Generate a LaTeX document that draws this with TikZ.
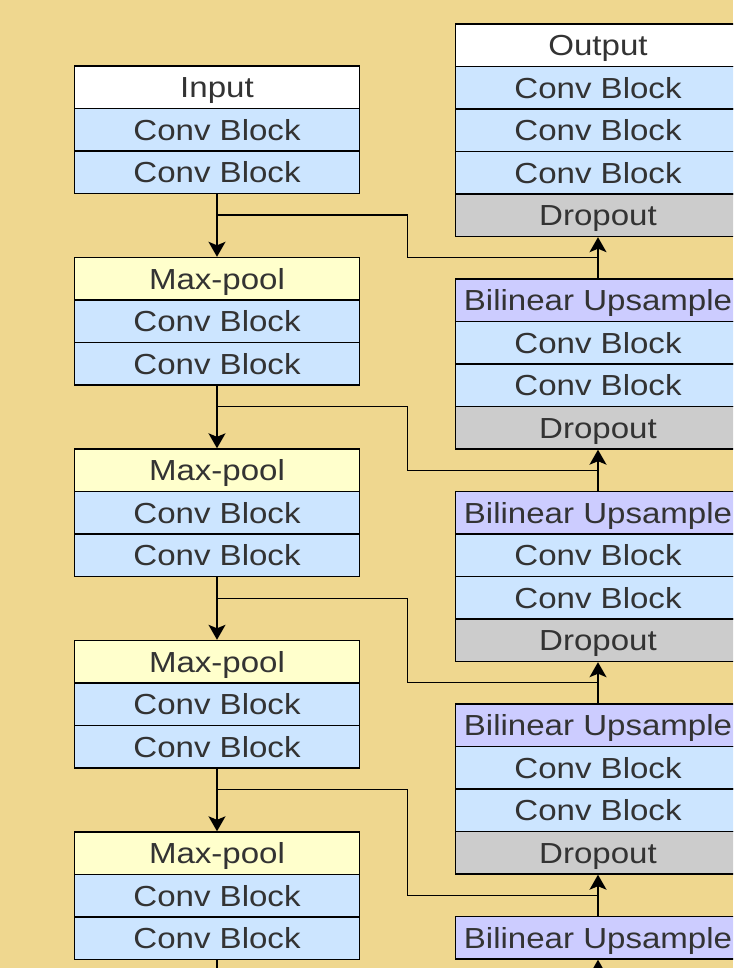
\documentclass[tikz,border=0pt]{standalone}
\usepackage{fontspec}
\setmainfont[FakeStretch=1.14]{Liberation Sans}
\usetikzlibrary{arrows.meta,calc}

\definecolor{bgcol}{HTML}{EFD78F}
\definecolor{convcol}{HTML}{CCE5FF}
\definecolor{poolcol}{HTML}{FFFFCC}
\definecolor{upcol}{HTML}{CCCCFF}
\definecolor{dropcol}{HTML}{CCCCCC}
\definecolor{txtcol}{HTML}{333333}

\begin{document}
\begin{tikzpicture}[x=1pt,y=-1pt,
  layer/.style={draw=black, line width=1.4pt, minimum width=285pt,
    minimum height=42.5pt, inner sep=0pt, text height=20.8pt, text depth=0pt,
    font=\fontsize{29}{34}\selectfont, text=txtcol},
  iobox/.style={layer, fill=white},
  conv/.style={layer, fill=convcol},
  pool/.style={layer, fill=poolcol},
  upbox/.style={layer, fill=upcol},
  drop/.style={layer, fill=dropcol},
  flow/.style={draw=black, line width=1.4pt,
    -{Stealth[length=15pt, width=17pt, inset=3.5pt]}},
  link/.style={draw=black, line width=1.4pt},
]
\useasboundingbox (0,0) rectangle (733,968);
\fill[bgcol] (0,0) rectangle (733,968);
\clip (0,0) rectangle (733,968);

% ---- encoder (left column) ----
\node[iobox] (d0-t) at (217,87.25)  {Input};
\node[conv]  (d0-a) at (217,129.75) {Conv Block};
\node[conv]  (d0-b) at (217,172.25) {Conv Block};
\foreach \k in {1,...,4}{
  \pgfmathsetmacro\t{66+191.5*\k}
  \node[pool] (d\k-t) at (217,\t+21.25)  {Max-pool};
  \node[conv] (d\k-a) at (217,\t+63.75)  {Conv Block};
  \node[conv] (d\k-b) at (217,\t+106.25) {Conv Block};
}

% ---- decoder (right column) ----
\node[iobox] (u0-t)    at (598,45.25)  {Output};
\node[conv]  (u0-a)    at (598,87.75)  {Conv Block};
\node[conv]  (u0-b)    at (598,130.25) {Conv Block};
\node[conv]  (u0-c)    at (598,172.75) {Conv Block};
\node[drop]  (u0-drop) at (598,215.25) {Dropout};
\foreach \j in {1,...,3}{
  \pgfmathsetmacro\t{279+212.5*(\j-1)}
  \node[upbox] (u\j)      at (598,\t+21.25)  {Bilinear Upsample};
  \node[conv]  (u\j-a)    at (598,\t+63.75)  {Conv Block};
  \node[conv]  (u\j-b)    at (598,\t+106.25) {Conv Block};
  \node[drop]  (u\j-drop) at (598,\t+148.75) {Dropout};
}
\node[upbox] (u4) at (598,937.75) {Bilinear Upsample};

% ---- down path ----
\foreach \k [evaluate=\k as \n using int(\k+1)] in {0,...,3}{
  \draw[flow] (d\k-b.south) -- (d\n-t.north);
}
\coordinate (downend) at (217,1000);
\draw[link] (d4-b.south) -- (downend);

% ---- up path ----
\foreach \k [evaluate=\k as \n using int(\k+1)] in {0,...,3}{
  \draw[flow] (u\n.north) -- (u\k-drop.south);
}
\coordinate (upstart) at (598,1010);
\draw[flow] (upstart) -- (u4.south);

% ---- skip connections ----
\foreach \k [evaluate=\k as \n using int(\k+1)] in {0,...,3}{
  \coordinate (br\k) at ($(d\k-b.south)+(0,21)$);
  \coordinate (mg\k) at ($(u\k-drop.south)!0.5!(u\n.north)$);
  \draw[link] (br\k) -| ($(br\k)!0.5!(mg\k)$) |- (mg\k);
}
\end{tikzpicture}
\end{document}
